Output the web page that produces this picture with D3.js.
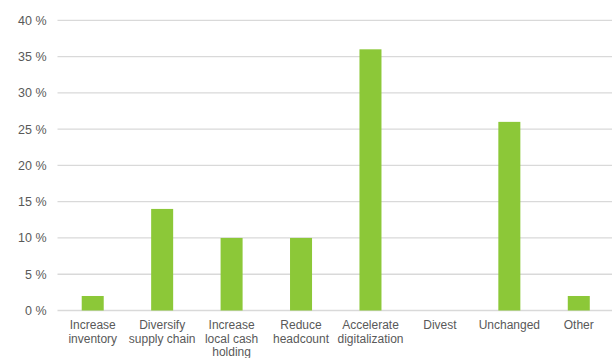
<!DOCTYPE html>
<html>
<head>
<meta charset="utf-8">
<script src="https://cdn.jsdelivr.net/npm/d3@7"></script>
<style>
  html, body { margin: 0; padding: 0; background: #fff; }
  svg { display: block; }
  text { font-family: "Liberation Sans", Arial, sans-serif; }
</style>
</head>
<body>
<div id="chart"></div>
<script>
// Survey responses: share of companies by planned action
const categories = [
  ["Increase", "inventory"],
  ["Diversify", "supply chain"],
  ["Increase", "local cash", "holding"],
  ["Reduce", "headcount"],
  ["Accelerate", "digitalization"],
  ["Divest"],
  ["Unchanged"],
  ["Other"]
];
const values = [2, 14, 10, 10, 36, 0, 26, 2];
const yTicks = [0, 5, 10, 15, 20, 25, 30, 35, 40];

const width = 612, height = 358;
const svg = d3.select("#chart").append("svg")
  .attr("width", width).attr("height", height);

const keys = categories.map((c, i) => i);
const x = d3.scaleBand()
  .domain(keys)
  .range([58, 613.5])
  .paddingInner(0.683)
  .paddingOuter(0.3415);

const y = d3.scaleLinear().domain([0, 40]).range([310.5, 20.3]);

// horizontal gridlines
svg.append("g")
  .selectAll("line")
  .data(yTicks)
  .join("line")
  .attr("x1", 57.5).attr("x2", 612)
  .attr("y1", d => y(d)).attr("y2", d => y(d))
  .attr("stroke", "#d9d9d9")
  .attr("stroke-width", 1.3);

// y-axis tick labels
svg.append("g")
  .selectAll("text")
  .data(yTicks)
  .join("text")
  .attr("x", 46.5)
  .attr("y", d => y(d))
  .attr("dy", "0.35em")
  .attr("text-anchor", "end")
  .attr("font-size", 12.5)
  .attr("fill", "#595959")
  .text(d => d + " %");

// bars
svg.append("g")
  .selectAll("rect")
  .data(values)
  .join("rect")
  .attr("x", (d, i) => x(i))
  .attr("width", x.bandwidth())
  .attr("y", d => y(d))
  .attr("height", d => y(0) - y(d))
  .attr("fill", "#8cc838");

// category labels
const lab = svg.append("g")
  .selectAll("text")
  .data(categories)
  .join("text")
  .attr("text-anchor", "middle")
  .attr("font-size", 12)
  .attr("fill", "#595959")
  .attr("transform", (d, i) => `translate(${x(i) + x.bandwidth() / 2},329.3)`);

lab.selectAll("tspan")
  .data(d => d)
  .join("tspan")
  .attr("x", 0)
  .attr("y", (d, j) => j * 13.4)
  .text(d => d);
</script>
</body>
</html>
